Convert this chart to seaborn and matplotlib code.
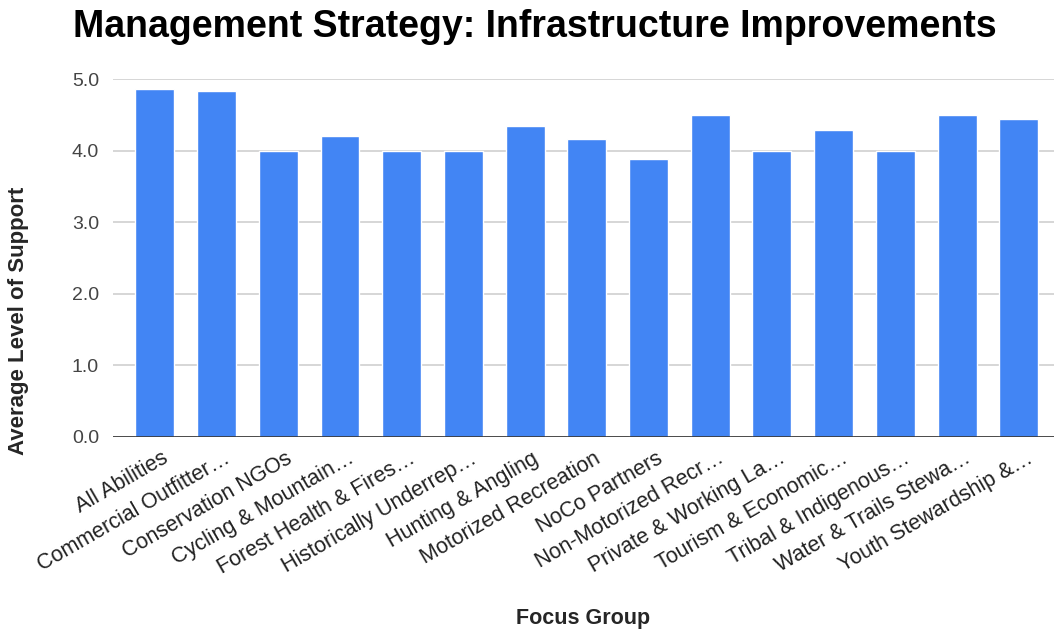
import matplotlib
matplotlib.use("Agg")
import matplotlib.pyplot as plt
import matplotlib.transforms as mtransforms
import seaborn as sns
import pandas as pd


# data
groups = [
    "All Abilities",
    "Commercial Outfitter…",
    "Conservation NGOs",
    "Cycling & Mountain…",
    "Forest Health & Fires…",
    "Historically Underrep…",
    "Hunting & Angling",
    "Motorized Recreation",
    "NoCo Partners",
    "Non-Motorized Recr…",
    "Private & Working La…",
    "Tourism & Economic…",
    "Tribal & Indigenous…",
    "Water & Trails Stewa…",
    "Youth Stewardship &…",
]
support = [4.86, 4.83, 4.0, 4.21, 4.0, 4.0, 4.34, 4.16, 3.88, 4.5, 4.0, 4.29, 4.0, 4.5, 4.44]
y_ticks = [0.0, 1.0, 2.0, 3.0, 4.0, 5.0]

df = pd.DataFrame({"group": groups, "support": support})

sns.set_style("white")
plt.rcParams["font.family"] = ["Liberation Sans", "DejaVu Sans"]

fig = plt.figure(figsize=(10.55, 6.33), dpi=100)
ax = fig.add_axes([0.107, 0.31, 0.892, 0.565])

sns.barplot(data=df, x="group", y="support", color="#4285F4",
            saturation=1, width=0.63, ax=ax, zorder=3)

ax.set_ylim(0, 5)
ax.set_xlim(-0.68, 14.57)
ax.set_yticks(y_ticks)
ax.set_yticklabels([f"{v:.1f}" for v in y_ticks], fontsize=14, color="#444444")
ax.grid(axis="y", color="#cccccc", linewidth=1.1, zorder=0)
ax.axhline(0, color="#333333", linewidth=1.2, zorder=4)
ax.tick_params(axis="y", length=0, pad=10)
ax.tick_params(axis="x", length=0, pad=8)

ax.set_xticks(range(len(groups)))
ax.set_xticklabels(groups, rotation=30, ha="right", rotation_mode="anchor",
                   fontsize=15.5, color="#222222")

# nudge the slanted labels a little to the right
shift = mtransforms.ScaledTranslation(5 / 72, 0, fig.dpi_scale_trans)
for lab in ax.get_xticklabels():
    lab.set_transform(lab.get_transform() + shift)

for side in ["top", "right", "left", "bottom"]:
    ax.spines[side].set_visible(False)

ax.set_xlabel("Focus Group", fontsize=15.5, fontweight="bold")
ax.set_ylabel("Average Level of Support", fontsize=16, fontweight="bold")
ax.xaxis.set_label_coords(0.5, -0.48)
ax.yaxis.set_label_coords(-0.089, 0.325)

fig.suptitle("Management Strategy: Infrastructure Improvements",
             fontsize=27, fontweight="bold", color="black", x=0.507, y=0.985)

fig.savefig("out.png", dpi=100, facecolor="white")
